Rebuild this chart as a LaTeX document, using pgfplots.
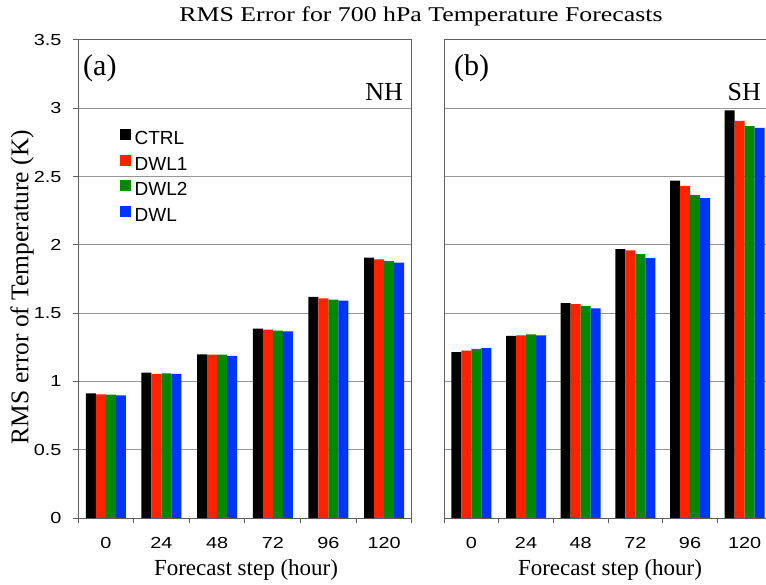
\documentclass[border=0pt]{standalone}
\usepackage{fontspec}
\usepackage{pgfplots}
\pgfplotsset{compat=1.18}
\setmainfont{Liberation Serif}
\newfontfamily\arialS[FakeStretch=1.24]{Liberation Sans}
\newfontfamily\arial{Liberation Sans}
\newfontfamily\timesT[FakeStretch=1.23]{Liberation Serif}
\definecolor{cRed}{RGB}{255,34,0}
\definecolor{cGreen}{RGB}{0,136,0}
\definecolor{cBlue}{RGB}{0,51,255}
\definecolor{axcol}{RGB}{95,95,95}
\definecolor{gridcol}{RGB}{150,150,150}
\pgfplotsset{
  sqlegend/.style={legend image code/.code={\fill[##1] (0pt,-1pt) rectangle (11pt,10pt);}},
  rmsbase/.style={
    scale only axis, height=478pt,
    ybar=0pt, bar width=10pt,
    ymin=0, ymax=3.5, xmin=-0.5, xmax=5.5,
    xtick={0,...,5}, xticklabels={0,24,48,72,96,120},
    minor xtick={-0.5,0.5,...,5.5},
    major x tick style={draw=none},
    minor x tick style={draw=axcol, line width=1pt},
    tick align=outside, major tick length=5pt, minor tick length=5pt,
    xtick pos=left, ytick pos=left,
    ytick={0,0.5,...,3.5},
    ymajorgrids, grid style={draw=gridcol, line width=1pt},
    axis line style={draw=axcol, line width=1pt},
    y tick style={draw=axcol, line width=1pt},
    xticklabel style={font=\arialS\fontsize{16}{16}\selectfont, anchor=base, yshift=-25pt},
    yticklabel style={font=\arialS\fontsize{16}{16}\selectfont, xshift=-8pt},
    every axis plot/.append style={draw=none},
  }
}
\begin{document}
\begin{tikzpicture}[x=1pt,y=1pt]
\useasboundingbox (0,0) rectangle (766,584);
\clip (0,0) rectangle (766,584);
% ---------------- NH ----------------
\begin{axis}[rmsbase, at={(78pt,66pt)}, anchor=south west, width=334pt,
  yticklabels={0,0.5,1,1.5,2,2.5,3,3.5},
  legend style={at={(0.115,0.818)}, anchor=north west, draw=none, fill=none,
    font=\arial\fontsize{19}{19}\selectfont, row sep=6pt, column sep=3pt,
    nodes={inner sep=1pt, text height=14pt, text depth=3pt}},
  legend cell align=left]
\addplot[fill=black, sqlegend] coordinates {(0,0.912) (1,1.064) (2,1.198) (3,1.386) (4,1.619) (5,1.907)};
\addplot[fill=cRed, sqlegend] coordinates {(0,0.905) (1,1.056) (2,1.196) (3,1.379) (4,1.609) (5,1.893)};
\addplot[fill=cGreen, sqlegend] coordinates {(0,0.903) (1,1.059) (2,1.196) (3,1.372) (4,1.599) (5,1.880)};
\addplot[fill=cBlue, sqlegend] coordinates {(0,0.898) (1,1.056) (2,1.188) (3,1.367) (4,1.592) (5,1.870)};
\legend{CTRL,DWL1,DWL2,DWL}
\end{axis}
% ---------------- SH ----------------
\begin{axis}[rmsbase, at={(444pt,66pt)}, anchor=south west, width=328pt,
  yticklabels={}, y tick style={draw=none}]
\addplot[fill=black] coordinates {(0,1.214) (1,1.334) (2,1.573) (3,1.969) (4,2.470) (5,2.985)};
\addplot[fill=cRed] coordinates {(0,1.226) (1,1.337) (2,1.566) (3,1.960) (4,2.431) (5,2.907)};
\addplot[fill=cGreen] coordinates {(0,1.238) (1,1.344) (2,1.551) (3,1.933) (4,2.365) (5,2.870)};
\addplot[fill=cBlue] coordinates {(0,1.243) (1,1.337) (2,1.534) (3,1.903) (4,2.343) (5,2.856)};
\end{axis}
% ---------------- texts ----------------
\node[anchor=base, inner sep=0pt, font=\timesT\fontsize{21}{21}\selectfont] at (421,562) {RMS Error for 700 hPa Temperature Forecasts};
\node[rotate=90, inner sep=0pt, font=\fontsize{25.5}{25.5}\selectfont] at (22,297) {RMS error of Temperature (K)};
\node[anchor=base, inner sep=0pt, font=\fontsize{23}{23}\selectfont] at (246,9) {Forecast step (hour)};
\node[anchor=base, inner sep=0pt, font=\fontsize{23}{23}\selectfont] at (610,9) {Forecast step (hour)};
\node[anchor=base west, inner sep=0pt, font=\fontsize{30}{30}\selectfont] at (83,508) {(a)};
\node[anchor=base west, inner sep=0pt, font=\fontsize{30}{30}\selectfont] at (454,508) {(b)};
\node[anchor=base east, inner sep=0pt, font=\fontsize{26}{26}\selectfont] at (403,483) {NH};
\node[anchor=base east, inner sep=0pt, font=\fontsize{26}{26}\selectfont] at (761,483) {SH};
\end{tikzpicture}
\end{document}
